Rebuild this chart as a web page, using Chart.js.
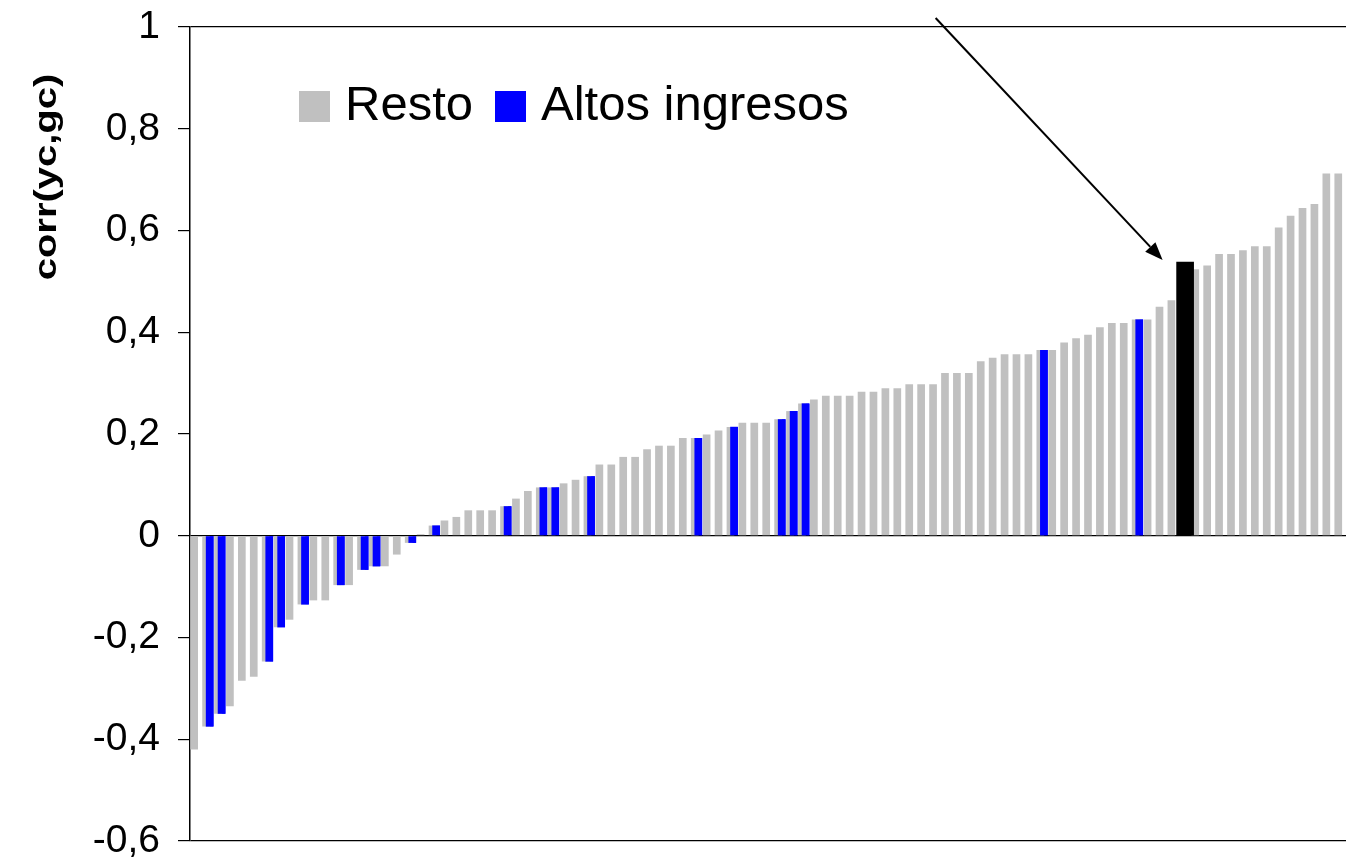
<!DOCTYPE html>
<html>
<head>
<meta charset="utf-8">
<script src="https://cdn.jsdelivr.net/npm/chart.js@4"></script>
<style>
    html, body { margin: 0; padding: 0; background: #fff; }
    #wrap { width: 1346px; height: 857px; }
</style>
</head>
<body>
<div id="wrap"><canvas id="corrChart"></canvas></div>
<script>
// correlation per country, sorted ascending
const values = [
    -0.42, -0.375, -0.35, -0.335, -0.285, -0.277, -0.247, -0.18, -0.165, -0.135,
    -0.127, -0.127, -0.097, -0.097, -0.067, -0.06, -0.06, -0.037, -0.014, 0.003,
    0.02, 0.03, 0.037, 0.05, 0.05, 0.05, 0.058, 0.073, 0.088, 0.095,
    0.095, 0.103, 0.11, 0.117, 0.14, 0.14, 0.155, 0.155, 0.17, 0.177,
    0.177, 0.192, 0.192, 0.199, 0.207, 0.214, 0.222, 0.222, 0.222, 0.229,
    0.245, 0.26, 0.268, 0.275, 0.275, 0.275, 0.283, 0.283, 0.29, 0.29,
    0.298, 0.298, 0.298, 0.32, 0.32, 0.32, 0.343, 0.35, 0.357, 0.357,
    0.357, 0.365, 0.365, 0.38, 0.388, 0.395, 0.41, 0.418, 0.418, 0.425,
    0.425, 0.45, 0.463, 0.538, 0.524, 0.531, 0.554, 0.554, 0.561, 0.569,
    0.569, 0.606, 0.629, 0.644, 0.652, 0.712, 0.712
];
// positions (0-based) of the high income countries
const altosIdx = [1, 2, 6, 7, 9, 12, 14, 15, 18, 20, 26, 29, 30, 33, 42, 45, 49, 50, 51, 71, 79];
// the country the arrow points at
const markedIdx = 83;
const countries = values.map((v, i) => String(i + 1));
const yTicks = [-0.6, -0.4, -0.2, 0, 0.2, 0.4, 0.6, 0.8, 1];
const seriesNames = ["Resto", "Altos ingresos"];

const GREY = "#c0c0c0";
const BLUE = "#0000ff";
const FONT = '"Liberation Sans", Arial, sans-serif';

const restoData = values.map((v, i) => i === markedIdx ? null : v);
const altosData = values.map((v, i) => altosIdx.includes(i) ? v : null);
const markedData = values.map((v, i) => i === markedIdx ? v : null);

const overlay = {
    id: "overlay",
    afterDatasetsDraw(chart) {
        // blue bars go on top of the grey ones they overlap
        chart.getDatasetMeta(1).controller.draw();
    },
    afterDraw(chart) {
        const ctx = chart.ctx;
        const area = chart.chartArea;

        // legend inside the plot
        ctx.save();
        ctx.font = "49px " + FONT;
        ctx.textBaseline = "alphabetic";
        ctx.fillStyle = "#000";
        let x = area.left + 109;
        const y = area.top + 64;
        chart.data.datasets.slice(0, 2).forEach(ds => {
            ctx.fillStyle = ds.backgroundColor;
            ctx.fillRect(x, y, 31, 31);
            ctx.fillStyle = "#000";
            ctx.fillText(ds.label, x + 46, y + 29);
            x += 46 + ctx.measureText(ds.label).width + 22;
        });
        ctx.restore();

        // y axis title
        ctx.save();
        ctx.translate(47, area.top + 150);
        ctx.rotate(-Math.PI / 2);
        ctx.scale(1.25, 1);
        ctx.font = "bold 32px " + FONT;
        ctx.textAlign = "center";
        ctx.textBaseline = "middle";
        ctx.fillStyle = "#000";
        ctx.fillText("corr(yc,gc)", 0, 0);
        ctx.restore();

        // arrow to the marked bar
        const bar = chart.getDatasetMeta(2).data[markedIdx];
        const tipX = bar.x - bar.width / 2 - 14;
        const tipY = bar.y - 2;
        const sx = tipX - 227, sy = tipY - 242;
        const a = Math.atan2(tipY - sy, tipX - sx);
        const head = 18, half = 7;
        const bx = tipX - head * Math.cos(a), by = tipY - head * Math.sin(a);
        ctx.save();
        ctx.strokeStyle = "#000";
        ctx.fillStyle = "#000";
        ctx.lineWidth = 2;
        ctx.beginPath();
        ctx.moveTo(sx, sy);
        ctx.lineTo(bx, by);
        ctx.stroke();
        ctx.beginPath();
        ctx.moveTo(tipX, tipY);
        ctx.lineTo(bx + half * Math.sin(a), by - half * Math.cos(a));
        ctx.lineTo(bx - half * Math.sin(a), by + half * Math.cos(a));
        ctx.closePath();
        ctx.fill();
        ctx.restore();
    }
};

const isLine = v => [1, 0, -0.6].some(t => Math.abs(t - v) < 1e-6);

new Chart(document.getElementById("corrChart"), {
    type: "bar",
    data: {
        labels: countries,
        datasets: [
            { label: seriesNames[0], data: restoData, backgroundColor: GREY,
              categoryPercentage: 0.6, barPercentage: 2.15 },
            { label: seriesNames[1], data: altosData, backgroundColor: BLUE,
              categoryPercentage: 0.6, barPercentage: 2.15 },
            { label: "marked", data: markedData, backgroundColor: "#000",
              grouped: false, barThickness: 17, order: -1 }
        ]
    },
    options: {
        responsive: true,
        maintainAspectRatio: false,
        animation: false,
        layout: { padding: { top: 27, bottom: 16, left: 0, right: 0 } },
        plugins: { legend: { display: false }, tooltip: { enabled: false } },
        scales: {
            x: { display: false },
            y: {
                min: -0.6,
                max: 1,
                afterBuildTicks: scale => { scale.ticks = yTicks.map(v => ({ value: v })); },
                afterFit: scale => {
                    scale.width = 190;
                    scale.paddingTop = 0;
                    scale.paddingBottom = 0;
                },
                ticks: {
                    color: "#000",
                    padding: 18,
                    font: { family: FONT, size: 39 },
                    callback: v => String(Number(v.toFixed(1))).replace(".", ",")
                },
                grid: {
                    color: c => isLine(c.tick.value) ? "#000" : "rgba(0,0,0,0)",
                    tickColor: "#000",
                    tickLength: 12,
                    lineWidth: 1.2
                },
                border: { display: true, color: "#000", width: 1.5 }
            }
        }
    },
    plugins: [overlay]
});
</script>
</body>
</html>
